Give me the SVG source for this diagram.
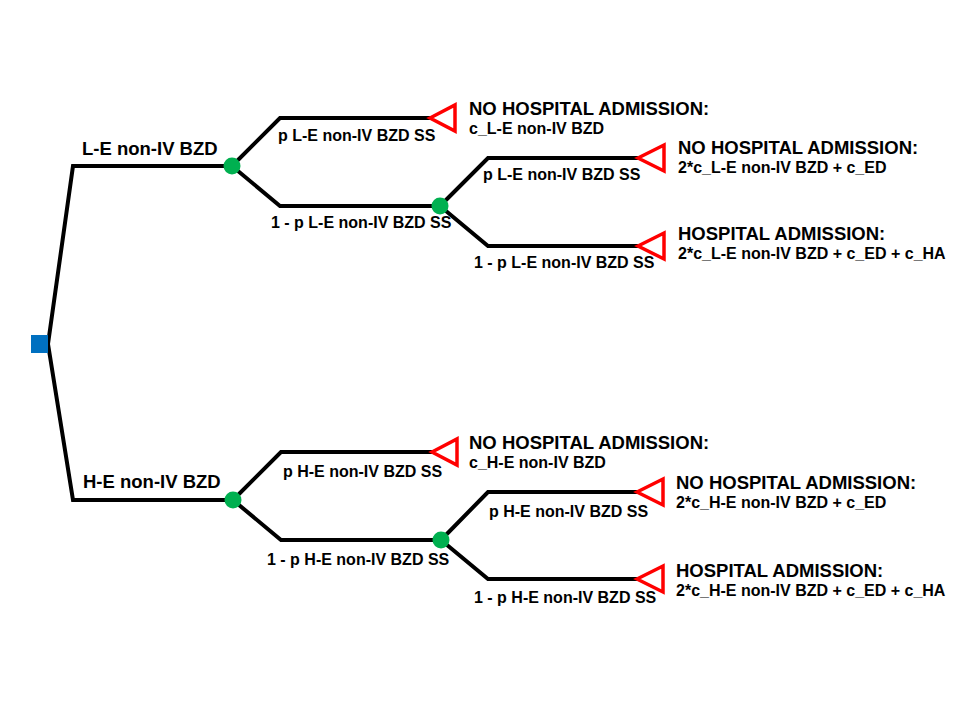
<svg xmlns="http://www.w3.org/2000/svg" width="960" height="720" viewBox="0 0 960 720">
<style>
.ln{fill:none;stroke:#000;stroke-width:4;stroke-linejoin:miter}
.ch{fill:#00B050}
.tm{fill:#fff;stroke:#FF0000;stroke-width:3.5;stroke-linejoin:miter}
.dc{fill:#0070C0}
text{font-family:"Liberation Sans",Arial,sans-serif;font-weight:bold;fill:#000}
.h{font-size:18.5px}
.p{font-size:16px}
.b{font-size:18.5px}
.v{font-size:16px}
</style>
<rect width="960" height="720" fill="#fff"/>
<g id="connectors">
<path class="ln" d="M48,344 L73,166 L232,166"/>
<path class="ln" d="M48,344 L73,500 L233,500"/>
<path class="ln" d="M232,166 L280,118 L430,118"/>
<path class="ln" d="M232,166 L280,206 L440,206"/>
<path class="ln" d="M440,206 L488,158 L638,158"/>
<path class="ln" d="M440,206 L488,246 L638,246"/>
<path class="ln" d="M233,500 L281,452 L432,452"/>
<path class="ln" d="M233,500 L281,540 L441,540"/>
<path class="ln" d="M441,540 L488,492 L637,492"/>
<path class="ln" d="M441,540 L488,579 L637,579"/>
</g>
<g id="root"><rect class="dc" x="31" y="335" width="17" height="18"/></g>
<g id="chance-LE"><circle class="ch" cx="232" cy="166" r="8.5"/></g>
<g id="chance-LE-2"><circle class="ch" cx="440" cy="206" r="8.5"/></g>
<g id="chance-HE"><circle class="ch" cx="233" cy="500" r="8.5"/></g>
<g id="chance-HE-2"><circle class="ch" cx="441" cy="540" r="8.5"/></g>
<g id="labels">
<text class="b" x="82" y="155">L-E non-IV BZD</text>
<text class="p" x="278" y="141">p L-E non-IV BZD SS</text>
<text class="p" x="271" y="228">1 - p L-E non-IV BZD SS</text>
<text class="p" x="483" y="180">p L-E non-IV BZD SS</text>
<text class="p" x="474" y="268">1 - p L-E non-IV BZD SS</text>
<text class="b" x="83" y="488">H-E non-IV BZD</text>
<text class="p" x="283" y="477">p H-E non-IV BZD SS</text>
<text class="p" x="267" y="565">1 - p H-E non-IV BZD SS</text>
<text class="p" x="489" y="517">p H-E non-IV BZD SS</text>
<text class="p" x="474" y="603">1 - p H-E non-IV BZD SS</text>
</g>
<g id="term-LE-1"><polygon class="tm" points="430,118 455,105 455,131"/><text class="h" x="469" y="115">NO HOSPITAL ADMISSION:</text><text class="v" x="469" y="134">c_L-E non-IV BZD</text></g>
<g id="term-LE-2"><polygon class="tm" points="638,158 664,145 664,171"/><text class="h" x="678" y="154">NO HOSPITAL ADMISSION:</text><text class="v" x="678" y="173">2*c_L-E non-IV BZD + c_ED</text></g>
<g id="term-LE-3"><polygon class="tm" points="638,246 664,233 664,259"/><text class="h" x="678" y="240">HOSPITAL ADMISSION:</text><text class="v" x="678" y="259">2*c_L-E non-IV BZD + c_ED + c_HA</text></g>
<g id="term-HE-1"><polygon class="tm" points="432,452 457,439 457,465"/><text class="h" x="469" y="449">NO HOSPITAL ADMISSION:</text><text class="v" x="469" y="468">c_H-E non-IV BZD</text></g>
<g id="term-HE-2"><polygon class="tm" points="637,492 663,479 663,505"/><text class="h" x="676" y="489">NO HOSPITAL ADMISSION:</text><text class="v" x="676" y="508">2*c_H-E non-IV BZD + c_ED</text></g>
<g id="term-HE-3"><polygon class="tm" points="637,579 663,566 663,592"/><text class="h" x="676" y="577">HOSPITAL ADMISSION:</text><text class="v" x="676" y="596">2*c_H-E non-IV BZD + c_ED + c_HA</text></g>
</svg>
